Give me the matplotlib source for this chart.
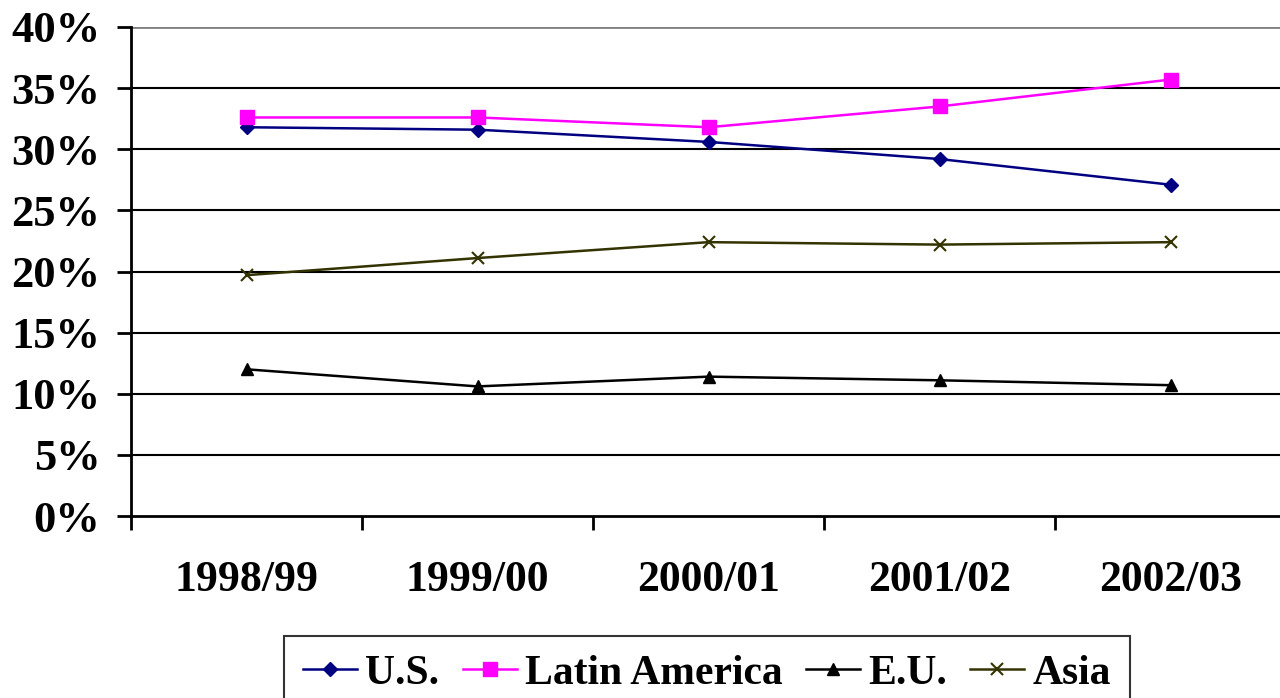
import matplotlib.pyplot as plt
from matplotlib.ticker import FuncFormatter

seasons = ['1998/99', '1999/00', '2000/01', '2001/02', '2002/03']
us = [31.8, 31.6, 30.6, 29.2, 27.1]
latin_america = [32.6, 32.6, 31.8, 33.5, 35.7]
eu = [12.0, 10.6, 11.4, 11.1, 10.7]
asia = [19.7, 21.1, 22.4, 22.2, 22.4]

plt.rcParams['font.family'] = ['Liberation Serif', 'DejaVu Serif']
plt.rcParams['font.weight'] = 'bold'

fig = plt.figure(figsize=(12.8, 6.98), dpi=100)
ax = fig.add_axes([131 / 1280, 1 - 516 / 698, 1155 / 1280, 489 / 698])

x = list(range(len(seasons)))
ax.plot(x, us, color='#000080', marker='D', markersize=7, lw=1.8, label='U.S.')
ax.plot(x, latin_america, color='#FF00FF', marker='s', markersize=10, lw=1.8, label='Latin America')
ax.plot(x, eu, color='black', marker='^', markersize=9, lw=1.8, label='E.U.')
ax.plot(x, asia, color='#333300', marker='x', markersize=9, mew=1.5, lw=1.8, label='Asia')

# gridlines, top one is gray
for v in range(5, 40, 5):
    ax.axhline(v, color='black', lw=1.5, zorder=0)
ax.axhline(40, color='#808080', lw=2, zorder=0)

ax.set_ylim(0, 40)
ax.set_xlim(-0.5, 4.5)
ax.set_yticks(range(0, 45, 5))
ax.yaxis.set_major_formatter(FuncFormatter(lambda v, p: f'{int(v)}%'))
ax.set_xticks([i - 0.5 for i in range(6)])
ax.set_xticklabels([])
ax.set_xticks(x, minor=True)
ax.set_xticklabels(seasons, minor=True)
ax.tick_params(axis='x', which='minor', length=0, pad=32, labelsize=31.5)
ax.tick_params(axis='x', which='major', length=10, width=2, direction='out')
ax.tick_params(axis='y', length=10, width=2, direction='out', labelsize=32, pad=12)

for s in ['top', 'right']:
    ax.spines[s].set_visible(False)
for s in ['left', 'bottom']:
    ax.spines[s].set_linewidth(2)

leg = fig.legend(loc='upper center', bbox_to_anchor=(707 / 1280, 1 - 636 / 698), ncol=4,
                 frameon=True, fancybox=False, edgecolor='black', fontsize=30,
                 handlelength=1.3, handletextpad=0.2, columnspacing=0.55,
                 borderpad=0.45, borderaxespad=0, markerscale=1.0)
leg.get_frame().set_linewidth(1.5)

fig.savefig('out.png', dpi=100)
